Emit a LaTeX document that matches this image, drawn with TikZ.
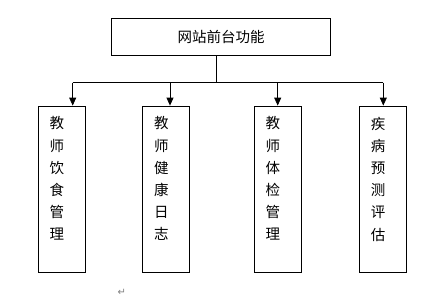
\documentclass[tikz,border=0pt]{standalone}
\usepackage{fontspec}
\newfontfamily\cjk{Noto Sans CJK SC}
\newfontfamily\dejavu{DejaVu Sans}
\usepackage{tikz}
\usetikzlibrary{positioning,arrows.meta}

\begin{document}
\begin{tikzpicture}[
  x=1pt, y=-1pt,
  every node/.style={font=\cjk\fontsize{14.5}{22.2}\selectfont},
  hd/.style={rectangle,draw,line width=0.8pt,minimum width=219pt,minimum height=37.4pt,inner sep=0pt},
  bx/.style={rectangle,draw,line width=0.8pt,minimum width=47pt,minimum height=166pt,inner sep=0pt},
  vt/.style={inner sep=0pt,align=left},
  arr/.style={line width=0.8pt,-{Triangle[length=8pt,width=7pt]}}
]
  \useasboundingbox (0,0) rectangle (447,301);
  \node[hd] (top) at (221,37) {网站前台功能};
  \node[bx] (b1) at (61.7,189) {};
  \node[bx] (b2) at (166.3,189) {};
  \node[bx] (b3) at (277.8,189) {};
  \node[bx] (b4) at (383,189) {};
  \node[vt, below right=11pt and 11.5pt of b1.north west] (t1) {教\\师\\饮\\食\\管\\理};
  \node[vt, below right=11pt and 11.5pt of b2.north west] (t2) {教\\师\\健\\康\\日\\志};
  \node[vt, below right=11pt and 11.5pt of b3.north west] (t3) {教\\师\\体\\检\\管\\理};
  \node[vt, below right=11pt and 11.5pt of b4.north west] (t4) {疾\\病\\预\\测\\评\\估};
  % bus line
  \coordinate (j) at (216,82.5);
  \coordinate (a1) at (72.7,82.5);
  \coordinate (a2) at (170,82.5);
  \coordinate (a3) at (277.7,82.5);
  \coordinate (a4) at (383.3,82.5);
  \draw[line width=0.8pt] (top.south -| j) -- (j);
  \draw[line width=0.8pt] (a1) -- (a4);
  \draw[arr] (a1) -- (a1 |- b1.north);
  \draw[arr] (a2) -- (a2 |- b2.north);
  \draw[arr] (a3) -- (a3 |- b3.north);
  \draw[arr] (a4) -- (a4 |- b4.north);
  \node[font=\dejavu\fontsize{10}{12}\selectfont, text=black!50, inner sep=0pt] (pm) at (121.7,292.5) {↵};
\end{tikzpicture}
\end{document}
